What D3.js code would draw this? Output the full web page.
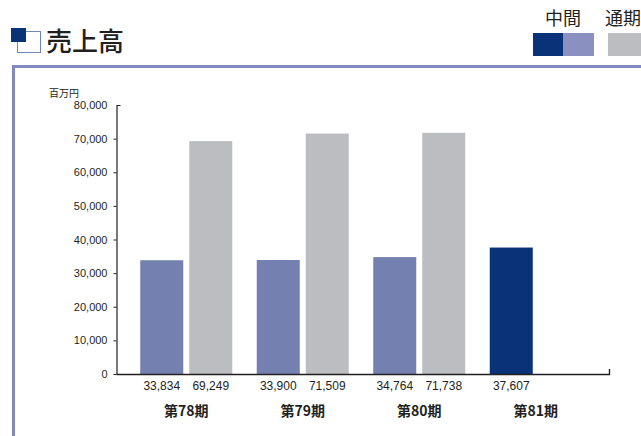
<!DOCTYPE html>
<html><head><meta charset="utf-8">
<script src="https://cdn.jsdelivr.net/npm/d3@7"></script>
<style>html,body{margin:0;padding:0;background:#fff;overflow:hidden}</style>
</head><body>
<svg id="c" width="641" height="436"></svg>
<script>
const periods = ["第78期", "第79期", "第80期", "第81期"];
const seriesKeys = ["中間", "通期"];
const interim = [33834, 33900, 34764, 37607];
const fullYear = [69249, 71509, 71738, null];
const yTicks = [0, 10000, 20000, 30000, 40000, 50000, 60000, 70000, 80000];

const svg = d3.select("#c");
const jp = "'Noto Sans CJK JP', 'Noto Sans', sans-serif";
const num = "'Liberation Sans', Arial, sans-serif";

// frame
svg.append("path").attr("d", "M13.5,700 V66.5 H700").attr("fill", "none")
  .attr("stroke", "#8189bf").attr("stroke-width", 3);

// title icon
svg.append("rect").attr("x", 17.5).attr("y", 31.5).attr("width", 23).attr("height", 21)
  .attr("fill", "#fff").attr("stroke", "#6f86bd").attr("stroke-width", 1);
svg.append("rect").attr("x", 11).attr("y", 28).attr("width", 15).attr("height", 14).attr("fill", "#0a3278");
svg.append("text").attr("x", 46).attr("y", 51).attr("font-family", jp).attr("font-size", 26)
  .attr("font-weight", 500).attr("fill", "#231f20").text("売上高");

// legend
svg.append("rect").attr("x", 533).attr("y", 33).attr("width", 31).attr("height", 23).attr("fill", "#0a3278");
svg.append("rect").attr("x", 563).attr("y", 33).attr("width", 31).attr("height", 23).attr("fill", "#8a90bf");
svg.append("rect").attr("x", 608).attr("y", 33).attr("width", 40).attr("height", 23).attr("fill", "#bcbdc1");
svg.append("text").attr("x", 563).attr("y", 25).attr("text-anchor", "middle").attr("font-family", jp)
  .attr("font-size", 18).attr("fill", "#231f20").text(seriesKeys[0]);
svg.append("text").attr("x", 605).attr("y", 25).attr("font-family", jp)
  .attr("font-size", 18).attr("fill", "#231f20").text(seriesKeys[1]);

// scales
const y = d3.scaleLinear().domain([0, 80000]).range([374, 105]);
const x0 = d3.scaleBand().domain(periods).range([128, 594]).padding(0);
const x1 = d3.scaleBand().domain(["h", "f"]).range([0, x0.bandwidth()])
  .paddingInner(0.1224).paddingOuter(0.25);

// unit label
svg.append("text").attr("x", 49).attr("y", 97).attr("font-family", jp).attr("font-size", 10)
  .attr("fill", "#231f20").text("百万円");

// y axis
const yAxis = d3.axisLeft(y).tickValues(yTicks).tickSize(4).tickPadding(5)
  .tickFormat(d3.format(","));
const gy = svg.append("g").attr("transform", "translate(116.5,0)").call(yAxis);
gy.select(".domain").attr("stroke", "#231f20").attr("stroke-width", 1.2).attr("d", "M0.5,374 V105.5 H4");
gy.selectAll(".tick line").attr("stroke", "#231f20").attr("x1", 0).attr("x2", -3);
gy.selectAll(".tick").filter(d => d === 80000).select("line").remove();
gy.selectAll(".tick text").attr("font-family", num).attr("font-size", 11).attr("fill", "#231f20");

// bars
const data = periods.map((p, i) => ({ p, h: interim[i], f: fullYear[i], i }));
const g = svg.append("g");
data.forEach(d => {
  const gx = x0(d.p);
  const hColor = d.f == null ? "#0a3278" : "#7480b0";
  if (d.h != null) {
    g.append("rect").attr("x", gx + x1("h")).attr("y", y(d.h)).attr("width", x1.bandwidth())
      .attr("height", y(0) - y(d.h)).attr("fill", hColor);
    g.append("text").attr("x", gx + x1("h") + x1.bandwidth() / 2).attr("y", 390)
      .attr("text-anchor", "middle").attr("font-family", num).attr("font-size", 12)
      .attr("fill", "#231f20").text(d3.format(",")(d.h));
  }
  if (d.f != null) {
    g.append("rect").attr("x", gx + x1("f")).attr("y", y(d.f)).attr("width", x1.bandwidth())
      .attr("height", y(0) - y(d.f)).attr("fill", "#bcbdc1");
    g.append("text").attr("x", gx + x1("f") + x1.bandwidth() / 2).attr("y", 390)
      .attr("text-anchor", "middle").attr("font-family", num).attr("font-size", 12)
      .attr("fill", "#231f20").text(d3.format(",")(d.f));
  }
  g.append("text").attr("x", gx + x0.bandwidth() / 2).attr("y", 416)
    .attr("text-anchor", "middle").attr("font-family", jp).attr("font-size", 14)
    .attr("font-weight", "bold").attr("fill", "#231f20").text(d.p);
});

// x axis baseline
svg.append("path").attr("d", `M116.5,${y(0) + 0.5} H609.5 V${y(0) - 5}`)
  .attr("fill", "none").attr("stroke", "#231f20").attr("stroke-width", 1.4);
</script>
</body></html>
